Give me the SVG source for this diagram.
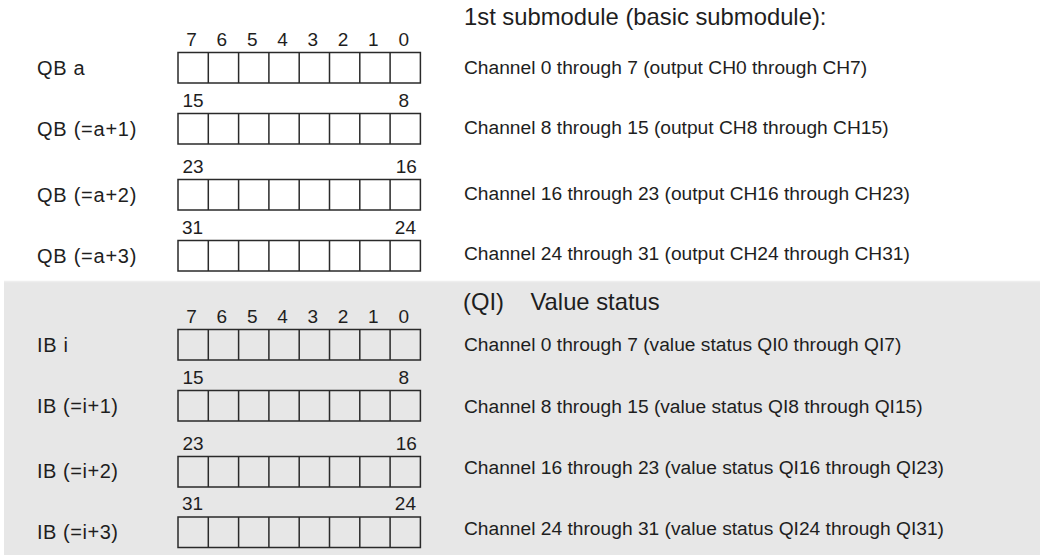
<svg xmlns="http://www.w3.org/2000/svg" xmlns:xlink="http://www.w3.org/1999/xlink" width="1040" height="558" viewBox="0 0 1040 558">
<style>
.t{font-family:"Liberation Sans",Arial,sans-serif;fill:#1e1e1e}
.lab{font-size:20px}
.num{font-size:19px}
.mid{text-anchor:middle}
.end{text-anchor:end}
.desc{font-size:19.2px}
.head{font-size:23.8px}
.box{fill:none;stroke:#2a2a2a;stroke-width:1.5}
</style>
<defs>
<g id="reg">
<rect class="box" x="0" y="0" width="242.4" height="30.5"/>
<path class="box" d="M30.3 0V30.5M60.6 0V30.5M90.9 0V30.5M121.2 0V30.5M151.5 0V30.5M181.8 0V30.5M212.1 0V30.5"/>
</g>
</defs>
<rect width="1040" height="558" fill="#ffffff"/>
<rect id="status-area" x="4" y="281" width="1036" height="274" fill="#e7e7e7"/>
<path d="M4 281.5H1040" stroke="#eeeeee" stroke-width="1.5"/>

<g id="heading-output">
<text class="t head" x="464" y="25">1st submodule (basic submodule):</text>
</g>

<g id="qb-a">
<text class="t num mid" y="45.5"><tspan x="191.6">7</tspan><tspan x="221.9">6</tspan><tspan x="252.2">5</tspan><tspan x="282.5">4</tspan><tspan x="312.8">3</tspan><tspan x="343.1">2</tspan><tspan x="373.4">1</tspan><tspan x="403.7">0</tspan></text>
<text class="t lab" x="37" y="74.5" textLength="47.7">QB a</text>
<use xlink:href="#reg" x="178" y="52.5"/>
<text class="t desc" x="464" y="74">Channel 0 through 7 (output CH0 through CH7)</text>
</g>

<g id="qb-a1">
<text class="t num" x="182.5" y="106.5">15</text>
<text class="t num mid" x="403.7" y="106.5">8</text>
<text class="t lab" x="37" y="135.5" textLength="99.4">QB (=a+1)</text>
<use xlink:href="#reg" x="178" y="113.5"/>
<text class="t desc" x="464" y="133.5">Channel 8 through 15 (output CH8 through CH15)</text>
</g>

<g id="qb-a2">
<text class="t num" x="182.5" y="172.5">23</text>
<text class="t num end" x="416.8" y="172.5">16</text>
<text class="t lab" x="37" y="201.5" textLength="99.4">QB (=a+2)</text>
<use xlink:href="#reg" x="178" y="179.5"/>
<text class="t desc" x="464" y="200">Channel 16 through 23 (output CH16 through CH23)</text>
</g>

<g id="qb-a3">
<text class="t num" x="182" y="233.5">31</text>
<text class="t num end" x="416" y="233.5">24</text>
<text class="t lab" x="37" y="262.5" textLength="99.4">QB (=a+3)</text>
<use xlink:href="#reg" x="178" y="240.5"/>
<text class="t desc" x="464" y="260">Channel 24 through 31 (output CH24 through CH31)</text>
</g>

<g id="heading-status">
<text class="t head" y="310"><tspan x="463">(QI)</tspan><tspan x="530.5">Value status</tspan></text>
</g>

<g id="ib-i">
<text class="t num mid" y="322.5"><tspan x="191.6">7</tspan><tspan x="221.9">6</tspan><tspan x="252.2">5</tspan><tspan x="282.5">4</tspan><tspan x="312.8">3</tspan><tspan x="343.1">2</tspan><tspan x="373.4">1</tspan><tspan x="403.7">0</tspan></text>
<text class="t lab" x="37" y="351.5" textLength="31">IB i</text>
<use xlink:href="#reg" x="178" y="329.5"/>
<text class="t desc" x="464" y="351">Channel 0 through 7 (value status QI0 through QI7)</text>
</g>

<g id="ib-i1">
<text class="t num" x="182.5" y="383.5">15</text>
<text class="t num mid" x="403.7" y="383.5">8</text>
<text class="t lab" x="37" y="412.5" textLength="81">IB (=i+1)</text>
<use xlink:href="#reg" x="178" y="390.5"/>
<text class="t desc" x="464" y="413">Channel 8 through 15 (value status QI8 through QI15)</text>
</g>

<g id="ib-i2">
<text class="t num" x="182.5" y="449.5">23</text>
<text class="t num end" x="416.8" y="449.5">16</text>
<text class="t lab" x="37" y="477.5" textLength="81">IB (=i+2)</text>
<use xlink:href="#reg" x="178" y="456.5"/>
<text class="t desc" x="464" y="474">Channel 16 through 23 (value status QI16 through QI23)</text>
</g>

<g id="ib-i3">
<text class="t num" x="182" y="510">31</text>
<text class="t num end" x="416" y="510">24</text>
<text class="t lab" x="37" y="538.5" textLength="81">IB (=i+3)</text>
<use xlink:href="#reg" x="178" y="517"/>
<text class="t desc" x="464" y="535">Channel 24 through 31 (value status QI24 through QI31)</text>
</g>

<g id="connectors"></g>
</svg>
